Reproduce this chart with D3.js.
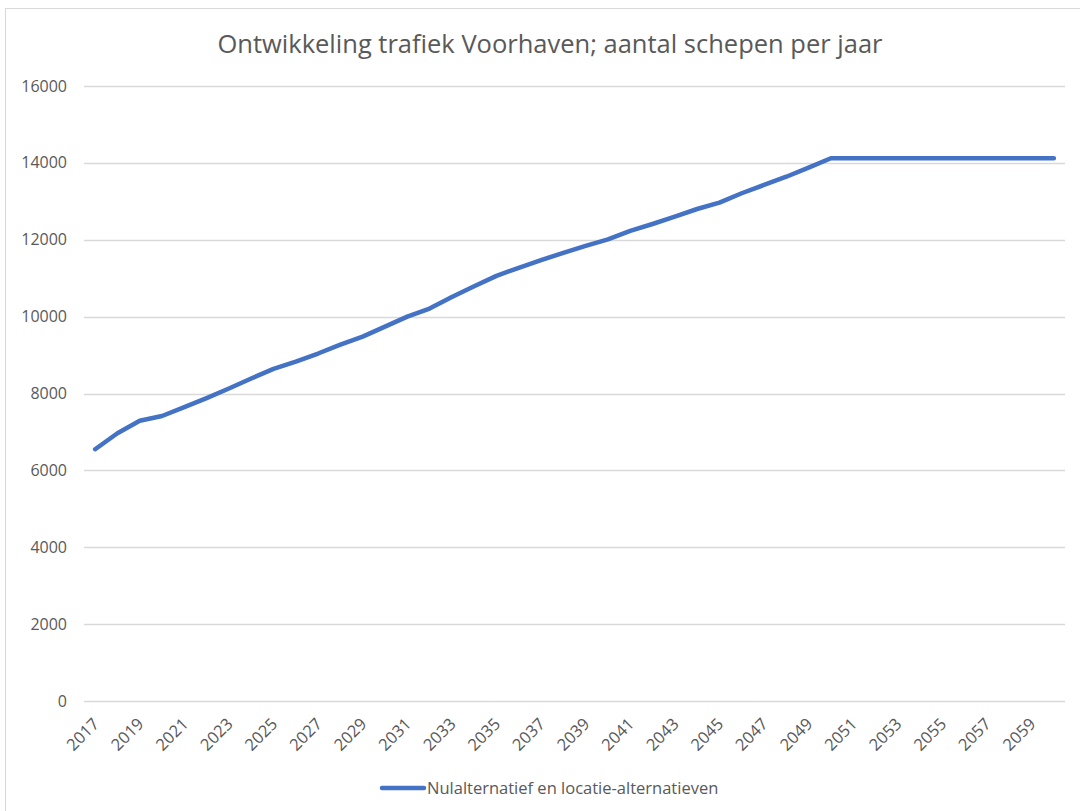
<!DOCTYPE html>
<html>
<head>
<meta charset="utf-8">
<script src="https://cdn.jsdelivr.net/npm/d3@7"></script>
<style>
  body { margin: 0; background: #fff; }
  text { font-family: "Open Sans", "Noto Sans", sans-serif; fill: #595959; }
</style>
</head>
<body>
<div id="chart"></div>
<script>
let years = d3.range(2017, 2061)
let ships = [
  6550, 6965, 7290, 7415, 7645, 7880, 8130, 8390, 8640, 8830,
  9040, 9270, 9480, 9740, 10000, 10210, 10510, 10790, 11060, 11270,
  11470, 11660, 11840, 12010, 12230, 12410, 12600, 12800, 12965, 13210,
  13425, 13640, 13875, 14120, 14120, 14120, 14120, 14120, 14120, 14120,
  14120, 14120, 14120, 14120
]
let yTicks = [0, 2000, 4000, 6000, 8000, 10000, 12000, 14000, 16000]
let xLabels = years.filter((d, i) => i % 2 === 0)
let chartTitle = 'Ontwikkeling trafiek Voorhaven; aantal schepen per jaar'
let seriesName = 'Nulalternatief en locatie-alternatieven'

let width = 1080
let height = 811
let plot = {left: 84, right: 1065, top: 86, bottom: 701}

let svg = d3.select('#chart')
  .append('svg')
    .attr('width', width)
    .attr('height', height)

// chart border (only left and top visible in the picture)
svg.append('rect')
  .attr('x', 5.5)
  .attr('y', 8.5)
  .attr('width', 1100)
  .attr('height', 900)
  .attr('fill', 'none')
  .attr('stroke', '#d9d9d9')

let x = d3.scaleBand()
  .domain(years)
  .range([plot.left, plot.right])

let y = d3.scaleLinear()
  .domain([0, 16000])
  .range([plot.bottom, plot.top])

// gridlines
svg.append('g')
  .selectAll('line')
  .data(yTicks)
  .join('line')
    .attr('x1', plot.left)
    .attr('x2', plot.right)
    .attr('y1', d => Math.round(y(d)) + 0.5)
    .attr('y2', d => Math.round(y(d)) + 0.5)
    .attr('stroke', '#d9d9d9')
    .attr('stroke-width', 1.3)

// y labels
svg.append('g')
  .selectAll('text')
  .data(yTicks)
  .join('text')
    .attr('x', 67)
    .attr('y', d => y(d))
    .attr('dy', '0.35em')
    .attr('text-anchor', 'end')
    .style('font-size', '16px')
    .text(d => d)

// x labels, rotated
svg.append('g')
  .selectAll('text')
  .data(xLabels)
  .join('text')
    .attr('transform', d => `translate(${x(d) + x.bandwidth() / 2 + 5},${plot.bottom + 24}) rotate(-45)`)
    .attr('text-anchor', 'end')
    .style('font-size', '16.5px')
    .text(d => d)

let line = d3.line()
  .x((d, i) => x(years[i]) + x.bandwidth() / 2)
  .y(d => y(d))

svg.append('path')
  .datum(ships)
  .attr('d', line)
  .attr('fill', 'none')
  .attr('stroke', '#4472c4')
  .attr('stroke-width', 4.5)
  .attr('stroke-linejoin', 'round')
  .attr('stroke-linecap', 'round')

// title
svg.append('text')
  .attr('x', 550)
  .attr('y', 53)
  .attr('text-anchor', 'middle')
  .style('font-size', '25.5px')
  .text(chartTitle)

// legend
svg.append('line')
  .attr('x1', 382)
  .attr('x2', 424)
  .attr('y1', 788)
  .attr('y2', 788)
  .attr('stroke', '#4472c4')
  .attr('stroke-width', 4.5)
  .attr('stroke-linecap', 'round')

svg.append('text')
  .attr('x', 427)
  .attr('y', 788)
  .attr('dy', '0.35em')
  .style('font-size', '16.5px')
  .text(seriesName)
</script>
</body>
</html>
